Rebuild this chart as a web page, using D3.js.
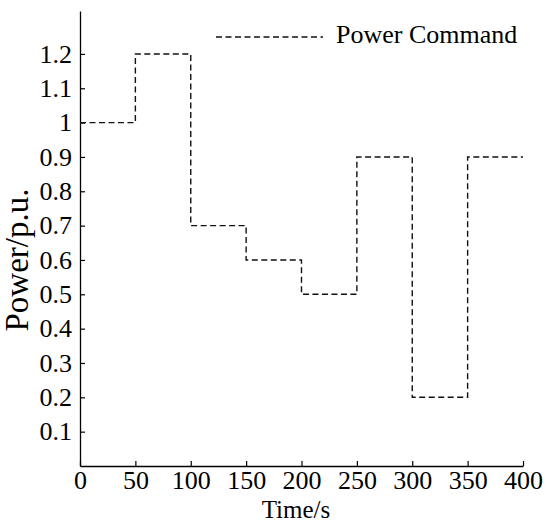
<!DOCTYPE html>
<html>
<head>
<meta charset="utf-8">
<script src="https://cdn.jsdelivr.net/npm/d3@7"></script>
<style>
  body { margin: 0; background: #fff; }
</style>
</head>
<body>
<svg id="chart" width="550" height="525"></svg>
<script>
// step times and command values (value holds until next time)
const times = [0, 50, 100, 150, 200, 250, 300, 350, 400];
const power = [1.0, 1.2, 0.7, 0.6, 0.5, 0.9, 0.2, 0.9, 0.9];
const xTicks = [0, 50, 100, 150, 200, 250, 300, 350, 400];
const yTicks = [0.1, 0.2, 0.3, 0.4, 0.5, 0.6, 0.7, 0.8, 0.9, 1, 1.1, 1.2];

const FONT = "'Liberation Serif', 'Times New Roman', Times, serif";

const svg = d3.select("#chart");
const margin = { left: 80, top: 11, right: 27, bottom: 59 };
const width = 550 - margin.left - margin.right;
const height = 525 - margin.top - margin.bottom;

const g = svg.append("g").attr("transform", `translate(${margin.left},${margin.top})`);

const x = d3.scaleLinear().domain([0, 400]).range([0, width]);
const y = d3.scaleLinear().domain([0, 1.325]).range([height, 0]);

// axes with inward ticks
const xAxis = g.append("g")
  .attr("transform", `translate(0,${height})`)
  .call(d3.axisBottom(x).tickValues(xTicks).tickSizeInner(-5).tickSizeOuter(0).tickPadding(5));
const yAxis = g.append("g")
  .call(d3.axisLeft(y).tickValues(yTicks).tickSizeInner(-5).tickSizeOuter(0).tickPadding(8)
    .tickFormat(d => d3.format("")(d)));

[xAxis, yAxis].forEach(a => {
  a.attr("font-family", null).attr("font-size", null);
  a.select(".domain").attr("stroke", "#000").attr("stroke-width", 1.3);
  a.selectAll(".tick line").attr("stroke", "#000").attr("stroke-width", 1.2);
  a.selectAll(".tick text")
    .style("font-family", FONT)
    .style("font-size", "26px")
    .attr("fill", "#000");
});

// the command line
const line = d3.line()
  .x((d, i) => x(times[i]))
  .y(d => y(d))
  .curve(d3.curveStepAfter);

g.append("path")
  .datum(power)
  .attr("fill", "none")
  .attr("stroke", "#111")
  .attr("stroke-width", 1.4)
  .attr("stroke-dasharray", "6,3.5")
  .attr("d", line);

// legend
svg.append("line")
  .attr("x1", 216).attr("x2", 323)
  .attr("y1", 37).attr("y2", 37)
  .attr("stroke", "#111")
  .attr("stroke-width", 1.4)
  .attr("stroke-dasharray", "6,3.5");
svg.append("text")
  .attr("x", 336).attr("y", 43)
  .style("font-family", FONT)
  .style("font-size", "26px")
  .text("Power Command");

// axis titles
svg.append("text")
  .attr("x", 296).attr("y", 518)
  .attr("text-anchor", "middle")
  .style("font-family", FONT)
  .style("font-size", "25px")
  .text("Time/s");
svg.append("text")
  .attr("transform", "translate(28,260) rotate(-90)")
  .attr("text-anchor", "middle")
  .style("font-family", FONT)
  .style("font-size", "33px")
  .text("Power/p.u.");
</script>
</body>
</html>
